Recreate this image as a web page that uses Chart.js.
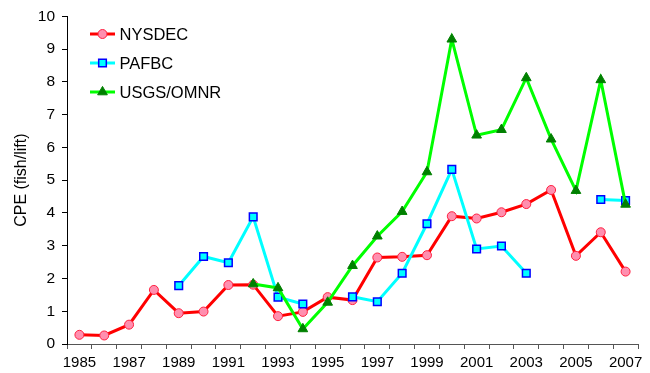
<!DOCTYPE html>
<html>
<head>
<meta charset="utf-8">
<script src="https://cdn.jsdelivr.net/npm/chart.js@4/dist/chart.umd.min.js"></script>
<style>
  html, body { margin: 0; padding: 0; background: #fff; }
  #wrap { width: 650px; height: 373px; }
</style>
</head>
<body>
<div id="wrap"><canvas id="c" width="650" height="373"></canvas></div>
<script>
const years = ['1985','1986','1987','1988','1989','1990','1991','1992','1993','1994','1995','1996',
               '1997','1998','1999','2000','2001','2002','2003','2004','2005','2006','2007'];
const nysdec = [0.28, 0.26, 0.59, 1.65, 0.94, 0.99, 1.8, 1.81, 0.85, 0.98, 1.43, 1.34,
                2.64, 2.66, 2.71, 3.9, 3.83, 4.02, 4.27, 4.7, 2.69, 3.41, 2.21];
const pafbc = [null, null, null, null, 1.78, 2.67, 2.48, 3.88, 1.43, 1.22, null, 1.44,
               1.29, 2.16, 3.67, 5.33, 2.9, 2.99, 2.16, null, null, 4.41, 4.38];
const usgs = [null, null, null, null, null, null, null, 1.83, 1.71, 0.46, 1.27, 2.39,
              3.29, 4.04, 5.25, 9.3, 6.37, 6.54, 8.12, 6.25, 4.68, 8.06, 4.26];
const seriesNames = ['NYSDEC', 'PAFBC', 'USGS/OMNR'];
const yTitle = 'CPE (fish/lift)';

const FONT = "'Liberation Sans', Arial, sans-serif";

const styles = [
  { line: '#FF0000', fill: '#FF8FAF', border: '#FF2040', shape: 'circle', r: 4.5, bw: 1 },
  { line: '#00FFFF', fill: '#00FFFF', border: '#0000FF', shape: 'rect', r: 5.4, bw: 1.5 },
  { line: '#00FF00', fill: '#008000', border: '#008000', shape: 'triangle', r: 5.6, bw: 1 }
];

function drawMarker(ctx, st, x, y) {
  ctx.save();
  ctx.fillStyle = st.fill;
  ctx.strokeStyle = st.border;
  ctx.lineWidth = st.bw;
  ctx.beginPath();
  if (st.shape === 'circle') {
    ctx.arc(x, y, st.r, 0, Math.PI * 2);
  } else if (st.shape === 'rect') {
    const s = st.r * Math.SQRT1_2;
    ctx.rect(x - s, y - s, 2 * s, 2 * s);
  } else {
    const r = st.r;
    ctx.moveTo(x, y - r);
    ctx.lineTo(x + r * Math.sin(Math.PI / 3), y + r / 2);
    ctx.lineTo(x - r * Math.sin(Math.PI / 3), y + r / 2);
    ctx.closePath();
  }
  ctx.fill();
  ctx.stroke();
  ctx.restore();
}

const legendPlugin = {
  id: 'customLegend',
  afterDraw(chart) {
    const ctx = chart.ctx;
    const ys = [34, 63, 92];
    seriesNames.forEach((name, i) => {
      const st = styles[i];
      const y = ys[i];
      ctx.save();
      ctx.strokeStyle = st.line;
      ctx.lineWidth = 3;
      ctx.beginPath();
      ctx.moveTo(90, y);
      ctx.lineTo(115, y);
      ctx.stroke();
      ctx.restore();
      drawMarker(ctx, st, 102.5, y);
      ctx.save();
      ctx.fillStyle = '#000';
      ctx.font = '16.5px ' + FONT;
      ctx.textBaseline = 'middle';
      ctx.textAlign = 'left';
      ctx.fillText(name, 119.5, y + 1);
      ctx.restore();
    });
  }
};

function mkDataset(label, data, i, order) {
  const st = styles[i];
  return {
    label: label,
    data: data,
    order: order,
    borderColor: st.line,
    borderWidth: 3,
    backgroundColor: st.fill,
    pointStyle: st.shape,
    pointRadius: st.r,
    pointHoverRadius: st.r,
    pointBackgroundColor: st.fill,
    pointBorderColor: st.border,
    pointBorderWidth: st.bw,
    tension: 0,
    spanGaps: false,
    fill: false
  };
}

new Chart(document.getElementById('c'), {
  type: 'line',
  data: {
    labels: years,
    datasets: [
      mkDataset(seriesNames[0], nysdec, 0, 3),
      mkDataset(seriesNames[1], pafbc, 1, 2),
      mkDataset(seriesNames[2], usgs, 2, 1)
    ]
  },
  options: {
    responsive: false,
    animation: false,
    layout: { padding: { top: 16, right: 12, left: 0, bottom: 0 } },
    plugins: {
      legend: { display: false },
      tooltip: { enabled: false },
      title: { display: false }
    },
    scales: {
      x: {
        type: 'category',
        offset: true,
        grid: {
          offset: true,
          drawOnChartArea: false,
          drawTicks: true,
          tickLength: 5,
          color: '#555'
        },
        border: { display: true, color: '#555', width: 1 },
        ticks: {
          autoSkip: false,
          maxRotation: 0,
          minRotation: 0,
          padding: 5,
          color: '#000',
          font: { family: FONT, size: 15 },
          callback: function(v, idx) { return idx % 2 === 0 ? this.getLabelForValue(v) : ''; }
        },
        afterFit: s => { s.height = 29; }
      },
      y: {
        min: 0,
        max: 10,
        grid: {
          drawOnChartArea: false,
          drawTicks: true,
          tickLength: 5,
          color: '#000'
        },
        border: { display: true, color: '#000', width: 1 },
        ticks: {
          stepSize: 1,
          padding: 7,
          color: '#000',
          font: { family: FONT, size: 15.5 }
        },
        title: {
          display: true,
          text: yTitle,
          color: '#000',
          font: { family: FONT, size: 16 },
          padding: { top: 12, bottom: 0 }
        },
        afterFit: s => { s.width = 67; }
      }
    }
  },
  plugins: [legendPlugin]
});
</script>
</body>
</html>
